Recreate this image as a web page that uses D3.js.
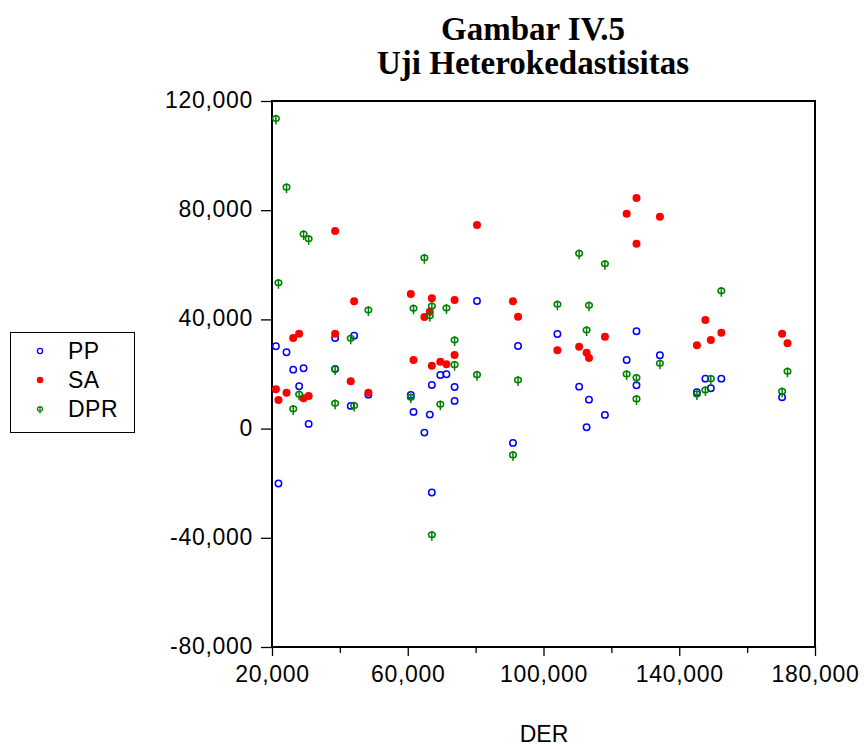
<!DOCTYPE html>
<html>
<head>
<meta charset="utf-8">
<script src="https://cdn.jsdelivr.net/npm/d3@7"></script>
<style>
  body { margin: 0; background: #fff; }
  svg text { font-family: "Liberation Sans", Arial, sans-serif; }
</style>
</head>
<body>
<div id="chart"></div>
<script>
// DER values (x) shared by all three series
const der = [21150, 21900, 24280, 26250, 28000, 29300, 30800, 38600, 38600, 43200,
  44200, 48400, 60900, 61700, 64900, 66500, 67100, 67100, 69600, 71400,
  73800, 73800, 80400, 91000, 92500, 104100, 110500, 112700, 113400, 118100,
  124500, 127400, 127400, 134300, 145200, 147700, 149300, 152400, 170300, 171900];

const pp = [30160, -20130, 27960, 21590, 15520, 22100, 1720, 33190, 21850, 8310,
  34040, 12440, 12330, 6110, -1460, 5120, -23420, 15990, 19650, 19910,
  15260, 10140, 46730, -5230, 30270, 34660, 15370, 510, 10610, 5010,
  25140, 35650, 15880, 26860, 13320, 18300, 14790, 18300, 11490, null];

const sa = [14420, 10500, 13170, 33190, 34770, 11130, 11970, 72350, 34770, 17350,
  46620, 13170, 49300, 25140, 40880, 42820, 47720, 23060, 24520, 23570,
  47100, 26970, 74550, 46620, 40990, 28690, 30010, 27810, 25870, 33670,
  78680, 84430, 67700, 77590, 30520, 39780, 32460, 35130, 34770, 31250];

const dpr = [113600, 53430, 88450, 7210, 12590, 71250, 69530, 9300, 21850, 33080,
  8420, 43440, 11490, 44060, 62580, 41350, -38900, 44900, 8930, 44170,
  32460, 23420, 19760, -9630, 17820, 45530, 64190, 36120, 45160, 60390,
  20020, 18660, 10870, 23930, 12700, 14160, 18300, 50500, 13690, 21010];

const seriesNames = ["PP", "SA", "DPR"];
const xMajorTicks = [20000, 60000, 100000, 140000, 180000];
const xMinorTicks = [40000, 80000, 120000, 160000];
const yTicks = [-80000, -40000, 0, 40000, 80000, 120000];

const W = 864, H = 749;
const svg = d3.select("#chart").append("svg")
  .attr("width", W).attr("height", H);

const x = d3.scaleLinear().domain([20000, 180000]).range([272, 815]);
const y = d3.scaleLinear().domain([-80000, 120000]).range([647, 101]);

const fmt = d3.formatLocale({ decimal: ".", thousands: ",", grouping: [3], currency: ["", ""], minus: "-" }).format(",");

// title
const title = svg.append("g").attr("font-family", "'Liberation Serif', 'Times New Roman', serif")
  .attr("font-weight", "bold").attr("font-size", 33).attr("text-anchor", "middle");
title.append("text").attr("x", 533).attr("y", 40).style("font-family", "inherit").text("Gambar IV.5");
title.append("text").attr("x", 533).attr("y", 74).style("font-family", "inherit").text("Uji Heterokedastisitas");

// axes
const yAxis = svg.append("g")
  .attr("transform", `translate(${x.range()[0]},0)`)
  .call(d3.axisLeft(y).tickValues(yTicks).tickFormat(fmt).tickSize(11).tickPadding(8));

const xAxis = svg.append("g")
  .attr("transform", `translate(0,${y.range()[0]})`)
  .call(d3.axisBottom(x).tickValues(xMajorTicks).tickFormat(fmt).tickSize(9).tickPadding(10));

svg.append("g")
  .attr("transform", `translate(0,${y.range()[0]})`)
  .call(d3.axisBottom(x).tickValues(xMinorTicks).tickFormat("").tickSize(6))
  .select(".domain").remove();

svg.selectAll(".domain").remove();
svg.selectAll(".tick line").attr("stroke", "#000").attr("stroke-width", 1.3);
svg.selectAll(".tick text")
  .attr("font-size", 23).attr("fill", "#000")
  .style("letter-spacing", "0.7px")
  .attr("font-family", "'Liberation Sans', Arial, sans-serif");
yAxis.selectAll(".tick text").attr("dy", "0.28em");

// frame
svg.append("rect")
  .attr("x", x.range()[0]).attr("y", y.range()[1])
  .attr("width", x.range()[1] - x.range()[0])
  .attr("height", y.range()[0] - y.range()[1])
  .attr("fill", "none").attr("stroke", "#000").attr("stroke-width", 2);

// x axis title
svg.append("text")
  .attr("x", 544).attr("y", 742)
  .attr("text-anchor", "middle").attr("font-size", 23)
  .text("DER");

// markers
function drawPP(g, cx, cy) {
  g.append("circle").attr("cx", cx).attr("cy", cy).attr("r", 3.2)
    .attr("fill", "none").attr("stroke", "#0000ff").attr("stroke-width", 1.5);
}
function drawSA(g, cx, cy) {
  g.append("circle").attr("cx", cx).attr("cy", cy).attr("r", 4)
    .attr("fill", "#ff0000");
}
function drawDPR(g, cx, cy) {
  g.append("ellipse").attr("cx", cx).attr("cy", cy).attr("rx", 3.3).attr("ry", 2.8)
    .attr("fill", "none").attr("stroke", "#008000").attr("stroke-width", 1.5);
  g.append("line").attr("x1", cx).attr("x2", cx).attr("y1", cy - 3.8).attr("y2", cy + 6)
    .attr("stroke", "#008000").attr("stroke-width", 1.5);
}

const plot = svg.append("g");
const drawers = [drawPP, drawSA, drawDPR];
[pp, sa, dpr].forEach((vals, i) => {
  const g = plot.append("g").attr("class", "series-" + seriesNames[i]);
  vals.forEach((v, j) => {
    if (v == null) return;
    drawers[i](g, x(der[j]), y(v));
  });
});

// legend
const legend = svg.append("g");
legend.append("rect").attr("x", 10.5).attr("y", 332.5).attr("width", 124).attr("height", 100)
  .attr("fill", "#fff").attr("stroke", "#000").attr("stroke-width", 1);
const legendY = d3.scalePoint().domain(seriesNames).range([351, 409]);
seriesNames.forEach((name, i) => {
  const g = legend.append("g");
  if (i === 0) g.append("circle").attr("cx", 40).attr("cy", legendY(name)).attr("r", 2.6)
    .attr("fill", "none").attr("stroke", "#0000ff").attr("stroke-width", 1.3);
  if (i === 1) g.append("circle").attr("cx", 40).attr("cy", legendY(name)).attr("r", 3.2).attr("fill", "#ff0000");
  if (i === 2) {
    g.append("ellipse").attr("cx", 40).attr("cy", legendY(name)).attr("rx", 2.6).attr("ry", 2.2)
      .attr("fill", "none").attr("stroke", "#008000").attr("stroke-width", 1.2);
    g.append("line").attr("x1", 40).attr("x2", 40).attr("y1", legendY(name) - 3).attr("y2", legendY(name) + 4.5)
      .attr("stroke", "#008000").attr("stroke-width", 1.2);
  }
  g.append("text").attr("x", 68).attr("y", legendY(name)).attr("dy", "0.35em")
    .attr("font-size", 23).style("letter-spacing", "0.5px").text(name);
});
</script>
</body>
</html>
